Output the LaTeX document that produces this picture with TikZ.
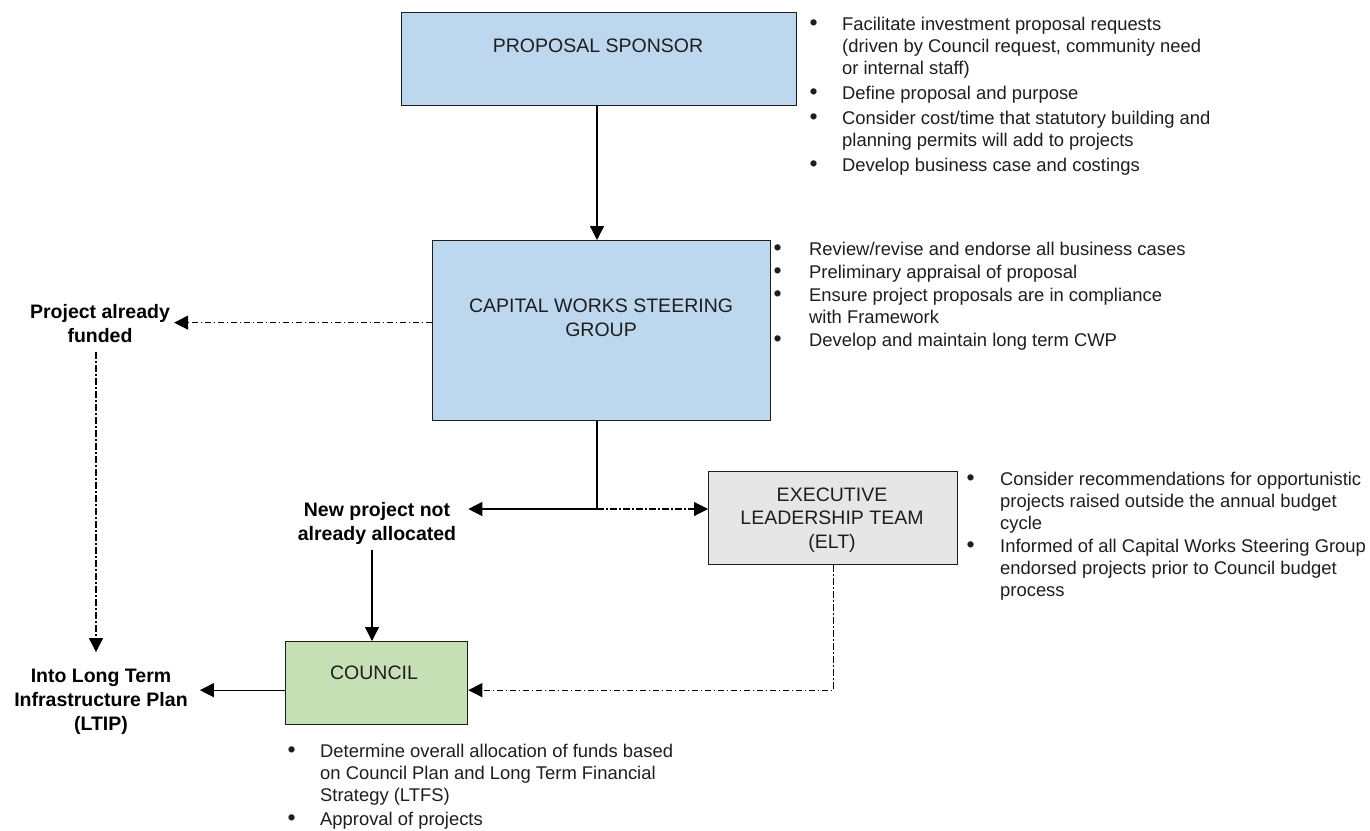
\documentclass[tikz,border=0pt]{standalone}
\usepackage{fontspec}
\setmainfont{Liberation Sans}
\usetikzlibrary{arrows.meta,calc}
\definecolor{blueF}{HTML}{BDD7EE}
\definecolor{greenF}{HTML}{C5E0B4}
\definecolor{greyF}{HTML}{E6E6E6}
\definecolor{ink}{HTML}{1E1E1E}
\newcommand\blist[2]{\begin{tabular}[t]{@{}p{#1}@{}l@{}}#2\end{tabular}}
\newcommand\bdot{\hspace*{-0.5pt}\scalebox{1.25}{\textbullet}}
\begin{document}
\begin{tikzpicture}[x=1pt,y=-1pt,
  box/.style={draw=ink, line width=1.3pt, inner sep=0pt, anchor=north west},
  boxtext/.style={font=\fontsize{19.5}{23.5}\selectfont, text=ink, align=center, inner sep=0pt},
  lbl/.style={font=\bfseries\fontsize{19.5}{24}\selectfont, text=black, align=center, inner sep=4pt},
  blk/.style={font=\fontsize{18.4}{22}\selectfont, text=ink, inner sep=0pt, anchor=base west},
  arr/.style={draw=black, line width=1.3pt, -{Triangle[length=14pt,width=14pt]}},
  dd/.style={draw=black, line width=1.1pt, dash pattern=on 6.5pt off 2.5pt on 1.5pt off 2.5pt},
  dda/.style={dd, -{Triangle[length=14pt,width=14pt]}}
]
\useasboundingbox (0,0) rectangle (1370,830);
\fill[white] (0,0) rectangle (1370,830);

% boxes
\node[box, fill=blueF, minimum width=395pt, minimum height=93pt] (ps) at (401,12) {};
\node[box, fill=blueF, minimum width=338pt, minimum height=180pt] (cwsg) at (432,240) {};
\node[box, fill=greyF, minimum width=249pt, minimum height=93pt] (elt) at (708,471) {};
\node[box, fill=greenF, minimum width=182pt, minimum height=83pt] (council) at (285,641) {};

% box texts
\node[boxtext] (ps-t) at (598,46) {PROPOSAL SPONSOR};
\node[boxtext] (cwsg-t) at (601,318) {CAPITAL WORKS STEERING\\GROUP};
\node[boxtext] (elt-t) at (832,520) {EXECUTIVE\\LEADERSHIP TEAM\\(ELT)};
\node[boxtext] (council-t) at (374,673) {COUNCIL};

% bold labels
\node[lbl] (paf) at (100,324) {Project already\\funded};
\node[lbl] (npa) at (377,523) {New project not\\already allocated};
\node[lbl] (ltip) at (101,702) {Into Long Term\\Infrastructure Plan\\(LTIP)};

% bullet blocks
\node[blk] (ps-b) at (810,30) {\blist{32pt}{%
\bdot & Facilitate investment proposal requests\\
 & (driven by Council request, community need\\
 & or internal staff)\\[3pt]
\bdot & Define proposal and purpose\\[3pt]
\bdot & Consider cost/time that statutory building and\\
 & planning permits will add to projects\\[3pt]
\bdot & Develop business case and costings\\}};

\node[blk] (cwsg-b) at (774,255) {\blist{35pt}{%
\bdot & Review/revise and endorse all business cases\\[1pt]
\bdot & Preliminary appraisal of proposal\\[1pt]
\bdot & Ensure project proposals are in compliance\\
 & with Framework\\[1pt]
\bdot & Develop and maintain long term CWP\\}};

\node[blk] (elt-b) at (967,485) {\blist{33pt}{%
\bdot & Consider recommendations for opportunistic\\
 & projects raised outside the annual budget\\
 & cycle\\[1pt]
\bdot & Informed of all Capital Works Steering Group\\
 & endorsed projects prior to Council budget\\
 & process\\}};

\node[blk] (council-b) at (288,757) {\blist{32pt}{%
\bdot & Determine overall allocation of funds based\\
 & on Council Plan and Long Term Financial\\
 & Strategy (LTFS)\\[2pt]
\bdot & Approval of projects\\}};

% connectors
\coordinate (j1) at (597,509);
\draw[arr] (j1 |- ps.south) -- (j1 |- cwsg.north);
\coordinate (c0) at ($(cwsg.west)+(0,-8)$);
\draw[dda] (c0) -- (paf.east |- c0);
\draw[dda] ($(paf.south)+(-4,5)$) -- ($(ltip.north)+(-5,-13)$);
\draw[draw=black, line width=1.3pt] (j1 |- cwsg.south) -- (j1);
\draw[arr] (j1) -- ($(j1 -| npa.east)+(8,0)$);
\draw[dda] (j1) -- (elt.west |- j1);
\coordinate (c1) at ($(npa.south)+(-5,2)$);
\draw[arr] (c1) -- (c1 |- council.north);
\draw[dda] (elt.south) |- ($(council.east)+(0,7)$);
\draw[arr] ($(council.west)+(0,7)$) -- ($(ltip.east |- council.west)+(8,7)$);
\end{tikzpicture}
\end{document}
